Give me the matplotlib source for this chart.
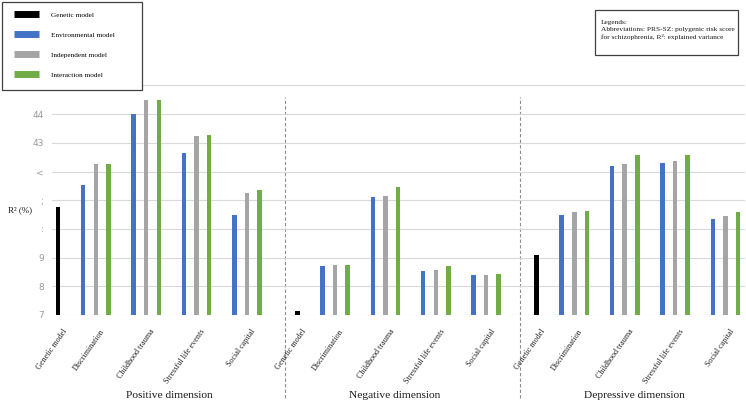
import numpy as np
import matplotlib.pyplot as plt
import matplotlib.transforms as mtransforms
from matplotlib.patches import Rectangle
from matplotlib.lines import Line2D

dimensions = ["Positive dimension", "Negative dimension", "Depressive dimension"]
exposures = ["Discrimination", "Childhood trauma", "Stressful life events", "Social capital"]
model_names = ["Genetic model", "Environmental model", "Independent model", "Interaction model"]

genetic = [10.77, 7.14, 9.10]
environmental = [[11.52, 14.00, 12.63, 10.48],
                 [8.71, 11.12, 8.53, 8.38],
                 [10.47, 12.20, 12.30, 10.33]]
independent = [[12.25, 14.48, 13.24, 11.25],
               [8.74, 11.15, 8.56, 8.40],
               [10.59, 12.26, 12.37, 10.45]]
interaction = [[12.26, 14.48, 13.26, 11.37],
               [8.75, 11.47, 8.71, 8.44],
               [10.62, 12.57, 12.57, 10.58]]

ytick_values = [7, 8, 9, 10, 11, 12, 13, 14, 15]
ytick_labels = ["7", "8", "9", ":", ";", "<", "43", "44", ""]

colors = ["#000000", "#4472C4", "#A5A5A5", "#70AD47"]
serif = "Liberation Serif"

fig = plt.figure(figsize=(7.46, 4.03), dpi=100)
ax = fig.add_axes([0.0697, 0.2184, 0.929, 0.5696])

bw = 0.36
tick_pos = []
tick_lab = []
for d in range(3):
    base = 19 * d
    ax.bar(base, genetic[d], width=bw, color=colors[0], zorder=3)
    tick_pos.append(base)
    tick_lab.append("Genetic model")
    centers = base + 3 + 4 * np.arange(len(exposures))
    ax.bar(centers - 1, environmental[d], width=bw, color=colors[1], zorder=3)
    ax.bar(centers, independent[d], width=bw, color=colors[2], zorder=3)
    ax.bar(centers + 1, interaction[d], width=bw, color=colors[3], zorder=3)
    tick_pos.extend(centers)
    tick_lab.extend(exposures)

ax.set_xlim(-0.48, 54.56)
ax.set_ylim(7, 15)
ax.set_yticks(ytick_values)
ax.set_yticklabels(ytick_labels, color="#9a9a9a", fontsize=6.5)
ax.grid(axis="y", color="#d9d9d9", lw=0.8, zorder=0)
for s in ax.spines.values():
    s.set_visible(False)
ax.tick_params(length=0, pad=6)

ax.set_xticks(tick_pos)
ax.set_xticklabels(tick_lab, rotation=55, ha="right", rotation_mode="anchor",
                   family=serif, fontsize=5.9, color="#262626")
offset = mtransforms.ScaledTranslation(4 / 100, -4 / 100, fig.dpi_scale_trans)
for lbl in ax.get_xticklabels():
    lbl.set_transform(lbl.get_transform() + offset)

# dimension separators
for xs in [18, 36.67]:
    ax.axvline(xs, ymin=-0.361, ymax=0.949, color="#8c8c8c", lw=0.8,
               ls=(0, (3, 2)), clip_on=False, zorder=1)

dim_x = [169, 395, 634]
for name, px in zip(dimensions, dim_x):
    fig.text(px / 746, 1 - 396 / 403, name, ha="center", va="center",
             family=serif, fontsize=8.2, color="#1a1a1a")

fig.text(8 / 746, 1 - 210 / 403, "R² (%)", ha="left", va="center",
         family=serif, fontsize=6.5, color="#1a1a1a")

# legend box
fig.patches.append(Rectangle((2 / 746, 1 - 90 / 403), 140 / 746, 88 / 403,
                             transform=fig.transFigure, facecolor="white",
                             edgecolor="#404040", lw=0.9, zorder=5))
handles = [Line2D([], [], color=c, lw=5, solid_capstyle="butt") for c in colors]
leg = fig.legend(handles, model_names, loc="upper left",
                 bbox_to_anchor=(7 / 746, 1 - 5 / 403), frameon=False,
                 prop={"family": serif, "size": 5.2}, handlelength=3.5,
                 handletextpad=1.7, labelspacing=1.95, borderpad=0.4)
leg.set_zorder(6)

# abbreviation box
fig.patches.append(Rectangle((595 / 746, 1 - 55 / 403), 143 / 746, 45 / 403,
                             transform=fig.transFigure, facecolor="white",
                             edgecolor="#404040", lw=0.9, zorder=5))
fig.text(601 / 746, 1 - 20 / 403,
         "Legends:\nAbbreviations: PRS-SZ: polygenic risk score\nfor schizophrenia, R²: explained variance",
         ha="left", va="top", family=serif, fontsize=5.3, color="#1a1a1a",
         linespacing=1.5, zorder=6)

fig.savefig("out.png", dpi=100)
